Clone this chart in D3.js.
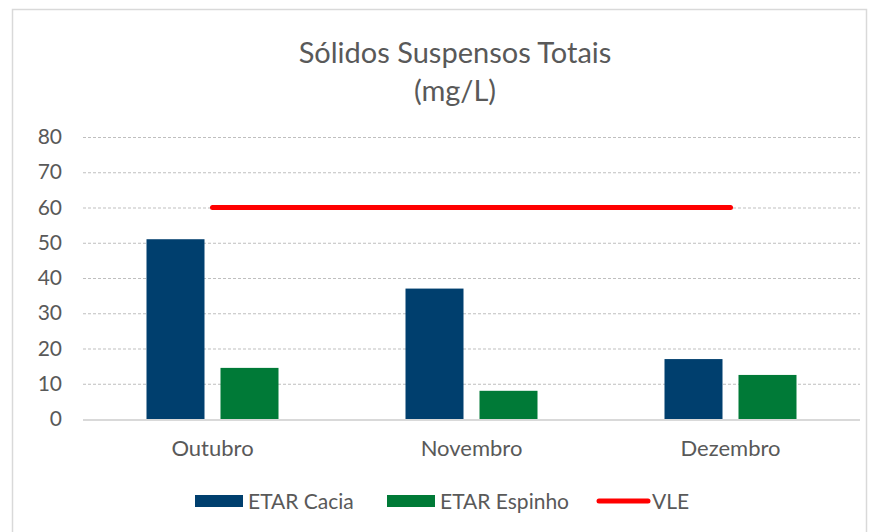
<!DOCTYPE html>
<html>
<head>
<meta charset="utf-8">
<script src="https://cdn.jsdelivr.net/npm/d3@7"></script>
<style>
  body { margin: 0; background: #fff; }
  text { font-family: "Lato", "Open Sans", sans-serif; fill: #595959; }
</style>
</head>
<body>
<div id="chart"></div>
<script>
// data
var months = ["Outubro", "Novembro", "Dezembro"];
var cacia = [51, 37, 17];
var espinho = [14.5, 8, 12.5];
var vle = [60, 60, 60];
var yTicks = [0, 10, 20, 30, 40, 50, 60, 70, 80];
var seriesNames = ["ETAR Cacia", "ETAR Espinho", "VLE"];
var colors = ["#003f6e", "#007a37", "#ff0000"];

var width = 870, height = 532;
var margin = { top: 137, right: 10, bottom: 113, left: 83 };
var plotW = width - margin.left - margin.right;
var plotH = height - margin.top - margin.bottom;

var svg = d3.select("#chart").append("svg")
    .attr("width", width)
    .attr("height", height);

// outer border of the chart area
svg.append("rect")
    .attr("x", 12.5).attr("y", 9.5)
    .attr("width", 854).attr("height", 540)
    .attr("fill", "none")
    .attr("stroke", "#d9d9d9")
    .attr("stroke-width", 1.5);

// title
svg.append("text")
    .attr("x", 455).attr("y", 63)
    .attr("text-anchor", "middle")
    .style("font-size", "29px")
    .text("Sólidos Suspensos Totais");
svg.append("text")
    .attr("x", 455).attr("y", 101)
    .attr("text-anchor", "middle")
    .style("font-size", "29px")
    .text("(mg/L)");

var g = svg.append("g")
    .attr("transform", "translate(" + margin.left + "," + margin.top + ")");

var x = d3.scaleBand().domain(months).range([0, plotW]).padding(0);
var y = d3.scaleLinear().domain([0, 80]).range([plotH, 0]);

// gridlines
g.selectAll(".grid").data(yTicks.filter(function (d) { return d > 0; }))
    .enter().append("line")
    .attr("x1", 0).attr("x2", plotW)
    .attr("y1", function (d) { return y(d) + 0.5; })
    .attr("y2", function (d) { return y(d) + 0.5; })
    .attr("stroke", "#bfbfbf")
    .attr("stroke-width", 1)
    .attr("stroke-dasharray", "3,2");

// y axis labels
var yAxis = g.append("g")
    .call(d3.axisLeft(y).tickValues(yTicks).tickSize(0).tickPadding(21));
yAxis.select(".domain").remove();
yAxis.selectAll("text").style("font-size", "21px").style("fill", "#595959")
    .style("font-family", "Lato, 'Open Sans', sans-serif");

// bars
var barW = 58, gap = 16;
g.selectAll(".cacia").data(cacia)
    .enter().append("rect")
    .attr("x", function (d, i) { return x(months[i]) + x.bandwidth() / 2 - gap / 2 - barW; })
    .attr("y", function (d) { return y(d); })
    .attr("width", barW)
    .attr("height", function (d) { return plotH - y(d); })
    .attr("fill", colors[0]);

g.selectAll(".espinho").data(espinho)
    .enter().append("rect")
    .attr("x", function (d, i) { return x(months[i]) + x.bandwidth() / 2 + gap / 2; })
    .attr("y", function (d) { return y(d); })
    .attr("width", barW)
    .attr("height", function (d) { return plotH - y(d); })
    .attr("fill", colors[1]);

// x axis line
g.append("line")
    .attr("x1", 0).attr("x2", plotW)
    .attr("y1", plotH + 1).attr("y2", plotH + 1)
    .attr("stroke", "#d9d9d9")
    .attr("stroke-width", 2);

// x axis labels
var xAxis = g.append("g")
    .attr("transform", "translate(0," + plotH + ")")
    .call(d3.axisBottom(x).tickSize(0).tickPadding(21));
xAxis.select(".domain").remove();
xAxis.selectAll("text").style("font-size", "22px").style("fill", "#595959")
    .style("font-family", "Lato, 'Open Sans', sans-serif");

// VLE line
var line = d3.line()
    .x(function (d, i) { return x(months[i]) + x.bandwidth() / 2; })
    .y(function (d) { return y(d); });
g.append("path")
    .datum(vle)
    .attr("d", line)
    .attr("fill", "none")
    .attr("stroke", colors[2])
    .attr("stroke-width", 5)
    .attr("stroke-linecap", "round");

// legend
var legendItems = [
    { name: seriesNames[0], x: 195, type: "rect" },
    { name: seriesNames[1], x: 387, type: "rect" },
    { name: seriesNames[2], x: 597, type: "line" }
];
var legend = svg.append("g");
legendItems.forEach(function (d, i) {
    if (d.type === "rect") {
        legend.append("rect")
            .attr("x", d.x).attr("y", 495)
            .attr("width", 48).attr("height", 12)
            .attr("fill", colors[i]);
    } else {
        legend.append("line")
            .attr("x1", d.x + 2).attr("x2", d.x + 51)
            .attr("y1", 501).attr("y2", 501)
            .attr("stroke", colors[i])
            .attr("stroke-width", 5)
            .attr("stroke-linecap", "round");
    }
    legend.append("text")
        .attr("x", d.type === "rect" ? d.x + 53 : d.x + 55).attr("y", 509)
        .style("font-size", "21px")
        .text(d.name);
});
</script>
</body>
</html>
